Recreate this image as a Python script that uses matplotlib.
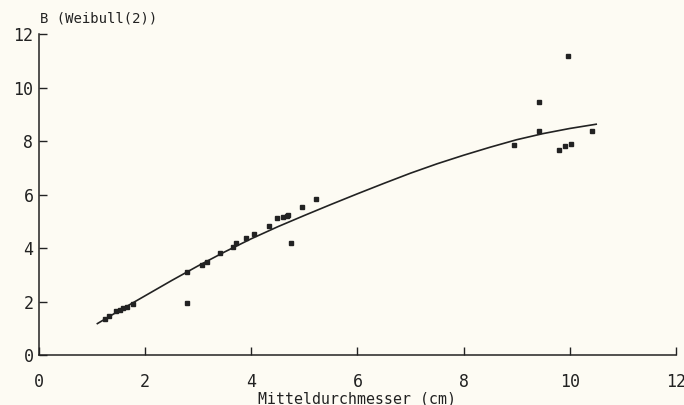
import matplotlib
matplotlib.use("Agg")
import matplotlib.pyplot as plt

# measured points: mean diameter (cm) vs Weibull(2) parameter B
diam = [1.24, 1.32, 1.46, 1.53, 1.59, 1.65, 1.77, 2.79, 2.79, 3.07, 3.16,
        3.41, 3.65, 3.71, 3.90, 4.05, 4.33, 4.48, 4.60, 4.67, 4.70, 4.75,
        4.95, 5.22, 8.95, 9.42, 9.43, 9.79, 9.92, 10.02, 9.96, 10.43]
b_val = [1.36, 1.46, 1.64, 1.68, 1.76, 1.80, 1.91, 3.10, 1.94, 3.36, 3.48,
         3.81, 4.04, 4.19, 4.37, 4.52, 4.82, 5.12, 5.16, 5.20, 5.23, 4.19,
         5.53, 5.83, 7.85, 9.46, 8.37, 7.66, 7.81, 7.88, 11.18, 8.37]

# fitted curve
curve_x = [1.1, 1.5, 2.0, 2.5, 3.0, 3.5, 4.0, 4.5, 5.0, 5.5, 6.0, 6.5,
           7.0, 7.5, 8.0, 8.5, 9.0, 9.5, 10.0, 10.5]
curve_y = [1.18, 1.65, 2.22, 2.79, 3.34, 3.86, 4.35, 4.80, 5.22, 5.63,
           6.03, 6.42, 6.80, 7.15, 7.47, 7.77, 8.05, 8.28, 8.47, 8.63]

BG = "#fdfbf3"
INK = "#222222"
FONT = "DejaVu Sans Mono"

fig = plt.figure(figsize=(6.84, 4.05), dpi=100)
fig.patch.set_facecolor(BG)
ax = fig.add_axes([0.057, 0.123, 0.931, 0.793])
ax.set_facecolor(BG)

ax.plot(curve_x, curve_y, color=INK, lw=1.2)
ax.plot(diam, b_val, ls="none", marker="s", ms=3, color=INK)

ax.set_xlim(0, 12)
ax.set_ylim(0, 12)
ax.set_xticks(range(0, 13, 2))
ax.set_yticks(range(0, 13, 2))
ax.tick_params(direction="in", length=6, width=1, color=INK,
               labelsize=12, labelcolor=INK)
ax.tick_params(axis="x", pad=13)
ax.tick_params(axis="y", pad=4)
for lbl in ax.get_xticklabels() + ax.get_yticklabels():
    lbl.set_family(FONT)
for side in ("top", "right"):
    ax.spines[side].set_visible(False)
for side in ("left", "bottom"):
    ax.spines[side].set_color(INK)
    ax.spines[side].set_linewidth(1.1)

ax.set_xlabel("Mitteldurchmesser (cm)", family=FONT, fontsize=10.7,
              color=INK, labelpad=0)
fig.text(0.058, 0.955, "B (Weibull(2))", family=FONT, fontsize=10,
         color=INK, ha="left", va="center")

fig.savefig("out.png", dpi=100, facecolor=BG)
